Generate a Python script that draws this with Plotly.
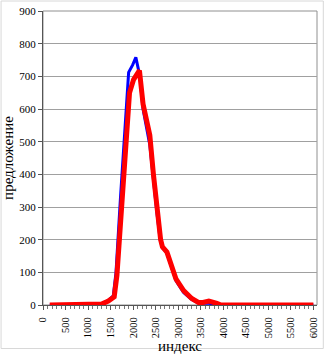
import plotly.graph_objects as go

# Blue series
blue_x = [150, 1200, 1300, 1450, 1560, 1620, 1720, 1820, 1900, 1990, 2060, 2150, 2220, 2370, 2450, 2530, 2600, 2650, 2750, 2950, 3120, 3300, 3450, 3550, 3680, 3800, 6000]
blue_y = [0, 0, 3, 14, 28, 100, 330, 540, 712, 735, 758, 700, 600, 490, 380, 280, 200, 175, 160, 75, 38, 17, 6, 5, 6, 0, 0]

# Red series
red_x = [150, 1200, 1300, 1450, 1580, 1640, 1750, 1840, 1920, 2010, 2140, 2220, 2370, 2450, 2530, 2610, 2650, 2750, 2950, 3120, 3300, 3450, 3550, 3680, 3860, 3950, 6000]
red_y = [0, 0, 3, 12, 25, 90, 320, 500, 650, 690, 718, 615, 520, 400, 295, 200, 178, 162, 80, 44, 20, 8, 8, 12, 5, 0, 0]

x_ticks = list(range(0, 6001, 500))
y_ticks = list(range(0, 901, 100))

FONT = "Liberation Serif, Times New Roman, serif"

fig = go.Figure()
fig.add_trace(go.Scatter(x=blue_x, y=blue_y, mode="lines",
                         line=dict(color="#0000ff", width=3), showlegend=False))
fig.add_trace(go.Scatter(x=red_x, y=red_y, mode="lines",
                         line=dict(color="#ff0000", width=5), showlegend=False))

fig.update_layout(
    width=325, height=356,
    margin=dict(l=43, r=8, t=11, b=51),
    paper_bgcolor="white", plot_bgcolor="white",
    font=dict(family=FONT, color="black", size=11),
    xaxis=dict(
        range=[0, 6080], tickvals=x_ticks, ticktext=[str(v) for v in x_ticks],
        tickangle=-90, ticks="outside", ticklen=4, tickcolor="#555",
        ticklabelstandoff=3, automargin=False,
        showline=True, linecolor="#555", linewidth=1, showgrid=False, zeroline=False,
        minor=dict(dtick=100, ticks="outside", ticklen=3, tickcolor="#777"),
        title=dict(text="индекс", font=dict(size=15, family=FONT), standoff=2),
        tickfont=dict(size=10.5, family=FONT),
    ),
    yaxis=dict(
        range=[0, 900], tickvals=y_ticks, ticks="outside", ticklen=4, tickcolor="#555",
        showline=True, linecolor="#555", linewidth=1, automargin=False,
        showgrid=True, gridcolor="#a0a0a0", gridwidth=1, zeroline=False,
        title=dict(text="предложение", font=dict(size=15, family=FONT), standoff=2),
        tickfont=dict(size=11, family=FONT),
    ),
    shapes=[
        dict(type="rect", xref="paper", yref="paper", x0=0, y0=0, x1=1, y1=1,
             line=dict(color="#909090", width=1), layer="below"),
        dict(type="rect", xref="paper", yref="paper", x0=-0.153, y0=-0.148, x1=1.023, y1=1.034,
             line=dict(color="#d8d8d8", width=1), layer="below"),
    ],
)

fig.write_html("out.html")
